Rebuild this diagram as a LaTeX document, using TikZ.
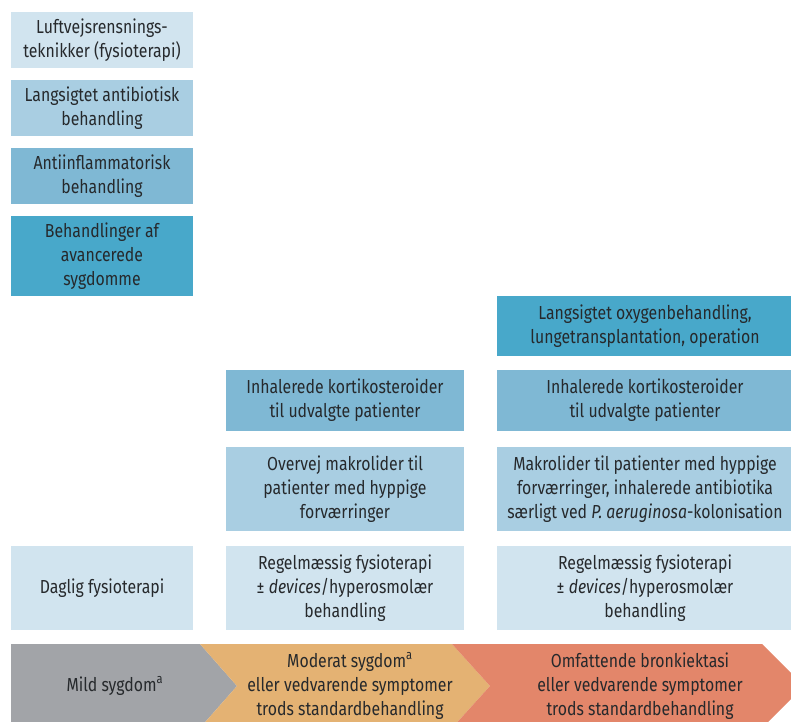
\documentclass[tikz,border=0pt]{standalone}
\usepackage{fontspec}
\setmainfont{Fira Sans}[FakeStretch=0.84]
\usetikzlibrary{positioning}
\definecolor{TextDark}{HTML}{26292C}
\definecolor{BlueA}{HTML}{D1E4EF}
\definecolor{BlueB}{HTML}{A9CEE2}
\definecolor{BlueC}{HTML}{7FB8D4}
\definecolor{BlueD}{HTML}{48A8CA}
\definecolor{StageGray}{HTML}{A2A4A8}
\definecolor{StageSand}{HTML}{E4B273}
\definecolor{StageCoral}{HTML}{E3866A}

\begin{document}
\begin{tikzpicture}[x=0.025cm,y=-0.025cm,every node/.style={text=TextDark,font=\fontsize{13.4}{17.2}\selectfont},box/.style={inner sep=0pt,align=center,minimum height=1.5cm},leftbox/.style={box,minimum width=4.55cm},midbox/.style={box,minimum width=5.95cm},rightbox/.style={box,minimum width=7.4cm},stage/.style={align=center,inner sep=0pt}]
\clip (0,0) rectangle (791,722); \useasboundingbox (0,0) rectangle (791,722);
% left column
\node[leftbox,fill=BlueA,minimum height=1.4cm](airway) at (102,40){Luftvejsrensnings-\\teknikker (fysioterapi)};
\node[leftbox,fill=BlueB,minimum height=1.4cm](antibio) at (102,108){Langsigtet antibiotisk\\behandling};
\node[leftbox,fill=BlueC,minimum height=1.4cm](antiinfl) at (102,176){Antiinflammatorisk\\behandling};
\node[leftbox,fill=BlueD,minimum height=2.0cm](advanced) at (102,256){Behandlinger af\\avancerede\\sygdomme};
\node[leftbox,fill=BlueA,minimum height=2.1cm](dailyphys) at (102,588){Daglig fysioterapi};
% moderate column
\node[midbox,fill=BlueC,minimum height=1.525cm](midcort) at (345,400.5){Inhalerede kortikosteroider\\til udvalgte patienter};
\node[midbox,fill=BlueB,minimum height=2.1cm](midmacro) at (345,489){Overvej makrolider til\\patienter med hyppige\\forværringer};
\node[midbox,fill=BlueA,minimum height=2.1cm](midphys) at (345,588){Regelmæssig fysioterapi\\± \textit{devices}/hyperosmolær\\behandling};
% extensive column
\node[rightbox,fill=BlueD,minimum height=1.5cm](oxygen) at (645,326){Langsigtet oxygenbehandling,\\lungetransplantation, operation};
\node[rightbox,fill=BlueC,minimum height=1.525cm](rightcort) at (645,400.5){Inhalerede kortikosteroider\\til udvalgte patienter};
\node[rightbox,fill=BlueB,minimum height=2.1cm](rightmacro) at (645,489){Makrolider til patienter med hyppige\\forværringer, inhalerede antibiotika\\særligt ved \textit{P. aeruginosa}-kolonisation};
\node[rightbox,fill=BlueA,minimum height=2.1cm](rightphys) at (645,588){Regelmæssig fysioterapi\\± \textit{devices}/hyperosmolær\\behandling};
% severity band
\fill[StageGray] (11,644)--(200,644)--(237,686)--(200,728)--(11,728)--cycle;
\fill[StageSand] (200,644)--(452,644)--(490,686)--(452,728)--(200,728)--(237,686)--cycle;
\fill[StageCoral] (452,644)--(762,644)--(804,686)--(762,728)--(452,728)--(490,686)--cycle;
\node[stage](mild) at (115,686){Mild sygdom\textsuperscript{a}};
\node[stage](moderate) at (350,686){Moderat sygdom\textsuperscript{a}\\eller vedvarende symptomer\\trods standardbehandling};
\node[stage](extensive) at (640,686){Omfattende bronkiektasi\\eller vedvarende symptomer\\trods standardbehandling};
\end{tikzpicture}
\end{document}
